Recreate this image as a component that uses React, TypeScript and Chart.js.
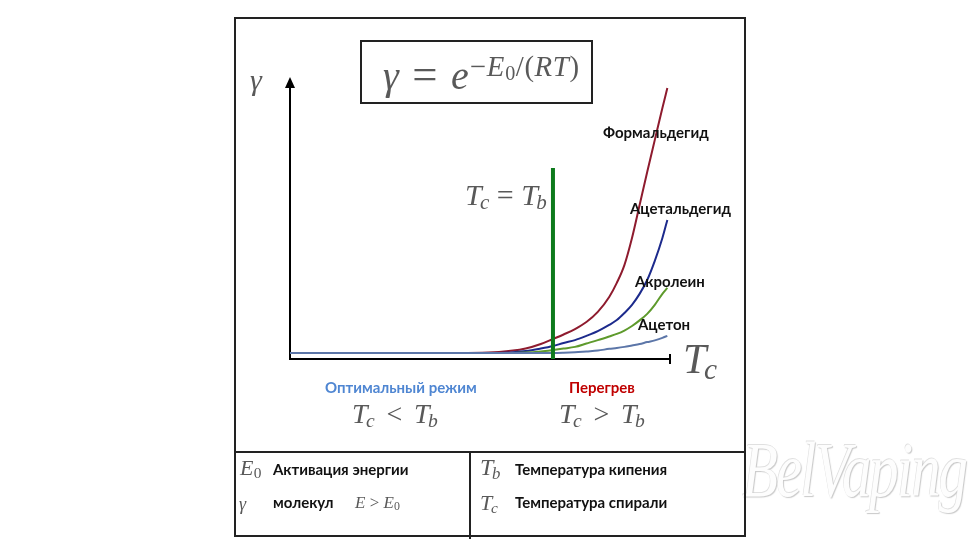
import React, { useEffect, useRef } from "react";
import { Chart, registerables } from "chart.js";

Chart.register(...registerables);

// ---- data ----
const temperatures = [0, 40, 55, 62, 66, 69.2, 72, 75, 78, 81, 84, 86, 88, 90, 92, 94, 96, 98, 99.3];
const formaldehyde = [2.1, 2.1, 2.5, 3.7, 5.3, 7.1, 8.7, 10.6, 13.1, 16.7, 22.0, 27.0, 33.3, 42.9, 54.6, 66.3, 77.7, 89.0, 96.1];
const acetaldehyde = [2.1, 2.1, 2.1, 2.8, 3.7, 4.6, 5.7, 6.7, 8.2, 9.9, 12.1, 13.8, 16.3, 19.2, 23.1, 28.0, 34.8, 42.9, 49.3];
const acrolein = [2.1, 2.1, 2.1, 2.3, 2.7, 3.2, 3.7, 4.3, 5.5, 6.7, 8.0, 8.9, 10.1, 11.7, 13.7, 16.0, 19.2, 23.1, 25.2];
const acetone = [2.1, 2.1, 2.1, 2.1, 2.1, 2.1, 2.2, 2.4, 2.7, 3.0, 3.6, 3.9, 4.3, 4.8, 5.3, 6.0, 6.6, 7.5, 8.2];
const seriesNames = ["Формальдегид", "Ацетальдегид", "Акролеин", "Ацетон"];
const boilingX = [69.2, 69.2];
const boilingY = [0, 67.7];

// ---- styles ----
const seriesColors = ["#8e1b2e", "#1c2a8c", "#5e9a2c", "#5c76a8"];
const MATH = "#595959";
const SERIF = '"Liberation Serif", "Times New Roman", serif';
const SANS = 'Lato, "Open Sans", sans-serif';

const axesPlugin = {
  id: "axesArrows",
  beforeDatasetsDraw(chart: any) {
    const { ctx, scales } = chart;
    const x = scales.x;
    const y = scales.y;
    const x0 = x.getPixelForValue(0);
    const xEnd = x.getPixelForValue(100);
    const y0 = y.getPixelForValue(0);
    const yTop = y.getPixelForValue(100);
    ctx.save();
    ctx.strokeStyle = "#000";
    ctx.fillStyle = "#000";
    ctx.lineWidth = 2;
    ctx.beginPath();
    ctx.moveTo(x0, y0 + 1);
    ctx.lineTo(x0, yTop + 8);
    ctx.stroke();
    ctx.beginPath();
    ctx.moveTo(x0, yTop);
    ctx.lineTo(x0 - 5, yTop + 11);
    ctx.lineTo(x0 + 5, yTop + 11);
    ctx.closePath();
    ctx.fill();
    ctx.beginPath();
    ctx.moveTo(x0 - 1, y0);
    ctx.lineTo(xEnd, y0);
    ctx.stroke();
    ctx.beginPath();
    ctx.moveTo(xEnd, y0 - 5);
    ctx.lineTo(xEnd, y0 + 5);
    ctx.stroke();
    ctx.restore();
  },
};

type TProps = {
  x: number;
  base: number;
  size: number;
  serif?: boolean;
  color?: string;
  bold?: boolean;
  children: any;
};

function T({ x, base, size, serif, color, bold, children }: TProps) {
  const k = serif ? 0.8375 : 0.887;
  return (
    <div
      style={{
        position: "absolute",
        left: x,
        top: base - k * size,
        fontSize: size,
        lineHeight: 1,
        fontFamily: serif ? SERIF : SANS,
        fontWeight: bold ? 700 : 400,
        color: color || (serif ? MATH : "#111"),
        whiteSpace: "nowrap",
      }}
    >
      {children}
    </div>
  );
}

const I = ({ children }: any) => <span style={{ fontStyle: "italic" }}>{children}</span>;
const Op = ({ children, gap, scale }: any) => (
  <span style={{ margin: `0 ${gap ?? 0.3}em`, fontSize: scale ? `${scale}em` : undefined }}>{children}</span>
);
const Sub = ({ children, italic }: any) => (
  <span
    style={{
      position: "relative",
      top: "0.22em",
      fontSize: "0.7em",
      fontStyle: italic ? "italic" : "normal",
      marginLeft: italic ? "-0.08em" : "0.02em",
    }}
  >
    {children}
  </span>
);

function Ts({ s }: { s: string }) {
  return (
    <>
      <I>T</I>
      <Sub italic>{s}</Sub>
    </>
  );
}

export default function App() {
  const canvasRef = useRef<HTMLCanvasElement | null>(null);

  useEffect(() => {
    const canvas = canvasRef.current;
    if (!canvas) return;
    const seriesValues = [formaldehyde, acetaldehyde, acrolein, acetone];
    const datasets: any[] = seriesValues.map((vals, i) => ({
      label: seriesNames[i],
      data: temperatures.map((t, j) => ({ x: t, y: vals[j] })),
      borderColor: seriesColors[i],
      backgroundColor: seriesColors[i],
      borderWidth: 2,
      pointRadius: 0,
      cubicInterpolationMode: "monotone",
      fill: false,
      clip: false,
      order: 4 - i,
    }));
    datasets.push({
      label: "Tc = Tb",
      data: boilingX.map((t, j) => ({ x: t, y: boilingY[j] })),
      borderColor: "#0d7a1c",
      borderWidth: 4,
      pointRadius: 0,
      fill: false,
      clip: false,
      order: 0,
    });
    const chart = new Chart(canvas, {
      type: "line",
      data: { datasets },
      options: {
        responsive: false,
        animation: false,
        layout: { padding: { left: 290, right: 310, top: 77, bottom: 193 } },
        scales: {
          x: { type: "linear", min: 0, max: 100, display: false },
          y: { type: "linear", min: 0, max: 100, display: false },
        },
        plugins: { legend: { display: false }, tooltip: { enabled: false } },
        events: [],
      },
      plugins: [axesPlugin],
    });
    return () => chart.destroy();
  }, []);

  const line = "#222";

  return (
    <div style={{ position: "absolute", left: 0, top: 0, width: 980, height: 552, background: "#fff", overflow: "hidden" }}>
      {/* watermark */}
      <div
        style={{
          position: "absolute",
          left: 742,
          top: 431,
          fontFamily: SERIF,
          fontStyle: "italic",
          fontSize: 60,
          lineHeight: 1,
          color: "#fdfdfd",
          textShadow: "1px 1px 1px #c8c8c8, -0.5px -0.5px 0.5px #e0e0e0",
          whiteSpace: "nowrap",
          letterSpacing: -2,
          transform: "scale(0.98, 1.3)",
          transformOrigin: "left top",
        }}
      >
        BelVaping
      </div>

      <canvas ref={canvasRef} width={980} height={552} style={{ position: "absolute", left: 0, top: 0 }} />

      {/* outer frame and table lines */}
      <div style={{ position: "absolute", left: 234, top: 17, width: 512, height: 520, border: `2px solid ${line}`, boxSizing: "border-box" }} />
      <div style={{ position: "absolute", left: 234, top: 451, width: 512, height: 2, background: line }} />
      <div style={{ position: "absolute", left: 469, top: 451, width: 2, height: 88, background: line }} />

      {/* formula box */}
      <div style={{ position: "absolute", left: 360, top: 40, width: 233, height: 64, border: `2px solid ${line}`, boxSizing: "border-box" }} />
      <T x={383} base={85} size={40} serif>
        <I>γ</I>
        <Op gap={0.3} scale={1.12}>=</Op>
        <I>e</I>
        <span style={{ position: "relative", top: "-0.44em", fontSize: "0.72em", marginLeft: "0.04em", letterSpacing: "0.02em" }}>
          −<I>E</I>
          <Sub>0</Sub>/(<I>RT</I>)
        </span>
      </T>

      {/* axis labels */}
      <T x={250} base={90} size={30} serif>
        <I>γ</I>
      </T>
      <T x={683} base={373} size={42} serif>
        <Ts s="c" />
      </T>

      <T x={465} base={205} size={30} serif>
        <Ts s="c" />
        <Op gap={0.25}>=</Op>
        <Ts s="b" />
      </T>

      {/* curve labels */}
      <T x={603} base={138} size={15} bold>
        {seriesNames[0]}
      </T>
      <T x={630} base={214} size={15} bold>
        {seriesNames[1]}
      </T>
      <T x={635} base={287} size={15} bold>
        {seriesNames[2]}
      </T>
      <T x={638} base={330} size={15} bold>
        {seriesNames[3]}
      </T>

      {/* regimes */}
      <T x={325} base={393} size={15} bold color="#4f86d2">
        Оптимальный режим
      </T>
      <T x={569} base={393} size={15} bold color="#c00000">
        Перегрев
      </T>
      <T x={352} base={423} size={28} serif>
        <Ts s="c" />
        <Op gap={0.42}>&lt;</Op>
        <Ts s="b" />
      </T>
      <T x={559} base={423} size={28} serif>
        <Ts s="c" />
        <Op gap={0.42}>&gt;</Op>
        <Ts s="b" />
      </T>

      {/* legend table */}
      <T x={240} base={475} size={22} serif>
        <I>E</I>
        <Sub>0</Sub>
      </T>
      <T x={273} base={475} size={15} bold>
        Активация энергии
      </T>
      <T x={239} base={510} size={18} serif>
        <I>γ</I>
      </T>
      <T x={273} base={508} size={15} bold>
        молекул
      </T>
      <T x={355} base={508} size={17} serif>
        <I>E</I>
        <Op gap={0.25}>&gt;</Op>
        <I>E</I>
        <Sub>0</Sub>
      </T>
      <T x={480} base={475} size={24} serif>
        <Ts s="b" />
      </T>
      <T x={515} base={475} size={15} bold>
        Температура кипения
      </T>
      <T x={480} base={510} size={22} serif>
        <Ts s="c" />
      </T>
      <T x={515} base={508} size={15} bold>
        Температура спирали
      </T>
    </div>
  );
}
